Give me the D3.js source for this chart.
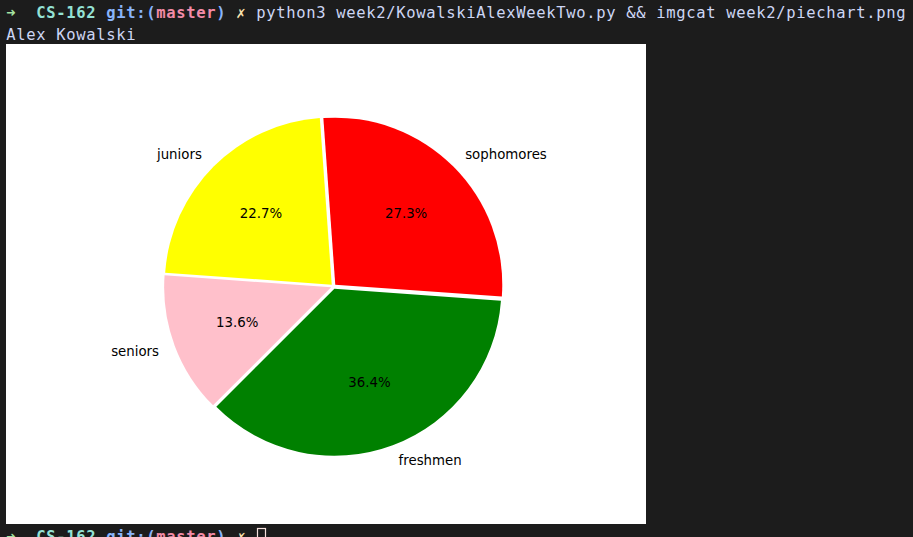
<!DOCTYPE html>
<html>
<head>
<meta charset="utf-8">
<script src="https://cdn.jsdelivr.net/npm/d3@7"></script>
<style>
  html, body { margin: 0; padding: 0; background: #1c1c1c; }
  svg { display: block; }
</style>
</head>
<body>
<svg id="screen" width="913" height="537"></svg>
<script>
// pie data (counts out of 22 students)
var classes = ['freshmen', 'sophomores', 'juniors', 'seniors']
var counts = [8, 6, 5, 3]
var sliceColors = ['#008000', '#ff0000', '#ffff00', '#ffc0cb']

// terminal text runs: [column, text, colour, bold]
var promptLine = [
  [0, '\u279c', '#a6e3a1', true],
  [3, 'CS-162', '#94e2d5', true],
  [10, 'git:(', '#89b4fa', true],
  [15, 'master', '#f38ba8', true],
  [21, ')', '#89b4fa', true],
  [23, '\u2717', '#f9e2af', true],
  [25, 'python3 week2/KowalskiAlexWeekTwo.py && imgcat week2/piechart.png', '#cdd6f4', false]
]
var outputLine = [[0, 'Alex Kowalski', '#cdd6f4', false]]
var nextPrompt = promptLine.slice(0, 6)

var svg = d3.select('#screen')
var charW = 10
var fontPx = 15.5

// one glyph per cell so the grid stays at 10px columns
function drawLine (runs, baseline) {
  var cells = []
  runs.forEach(function (r) {
    r[1].split('').forEach(function (ch, k) {
      if (ch !== ' ') cells.push({ col: r[0] + k, ch: ch, color: r[2], bold: r[3] })
    })
  })
  svg.append('g').selectAll('text')
    .data(cells)
    .join('text')
    .attr('x', function (d) { return 6 + d.col * charW + charW / 2 })
    .attr('y', baseline)
    .attr('text-anchor', 'middle')
    .attr('font-family', 'DejaVu Sans Mono, monospace')
    .attr('font-size', fontPx)
    .attr('font-weight', function (d) { return d.bold ? 'bold' : 'normal' })
    .attr('fill', function (d) { return d.color })
    .text(function (d) { return d.ch })
}

drawLine(promptLine, 18)
drawLine(outputLine, 40)
drawLine(nextPrompt, 542)

// cursor box
svg.append('rect')
  .attr('x', 257.5).attr('y', 528.5)
  .attr('width', 8).attr('height', 16)
  .attr('fill', 'none')
  .attr('stroke', '#f5e0dc')
  .attr('stroke-width', 1.2)

// the matplotlib figure (640x480)
var fig = svg.append('g').attr('transform', 'translate(6,44)')
fig.append('rect').attr('width', 640).attr('height', 480).attr('fill', '#ffffff')

var cx = 327.5
var cy = 242.4
var radius = 167
var explode = 2.5
// matplotlib startangle=225 (ccw from 3 o'clock) -> d3 angle
var start = (90 - 225) * Math.PI / 180

var pie = d3.pie().sort(null)
  .startAngle(start)
  .endAngle(start - 2 * Math.PI)
var arcs = pie(counts)
var total = d3.sum(counts)
var arc = d3.arc().innerRadius(0).outerRadius(radius)

function along (a, dist) {
  return [Math.sin(a) * dist, -Math.cos(a) * dist]
}

var plot = fig.append('g').attr('transform', 'translate(' + cx + ',' + cy + ')')

arcs.forEach(function (d, i) {
  var mid = (d.startAngle + d.endAngle) / 2
  var off = along(mid, explode)
  plot.append('path')
    .attr('d', arc(d))
    .attr('transform', 'translate(' + off[0] + ',' + off[1] + ')')
    .attr('fill', sliceColors[i])

  var lp = along(mid, radius * 1.1 + explode)
  plot.append('text')
    .attr('x', lp[0]).attr('y', lp[1])
    .attr('text-anchor', lp[0] > 0 ? 'start' : 'end')
    .attr('dominant-baseline', 'central')
    .attr('font-family', 'DejaVu Sans, sans-serif')
    .attr('font-size', 13.33)
    .attr('fill', '#000')
    .text(classes[i])

  var pp = along(mid, radius * 0.6 + explode)
  plot.append('text')
    .attr('x', pp[0]).attr('y', pp[1])
    .attr('text-anchor', 'middle')
    .attr('dominant-baseline', 'central')
    .attr('font-family', 'DejaVu Sans, sans-serif')
    .attr('font-size', 13.33)
    .attr('fill', '#000')
    .text((100 * d.value / total).toFixed(1) + '%')
})
</script>
</body>
</html>
